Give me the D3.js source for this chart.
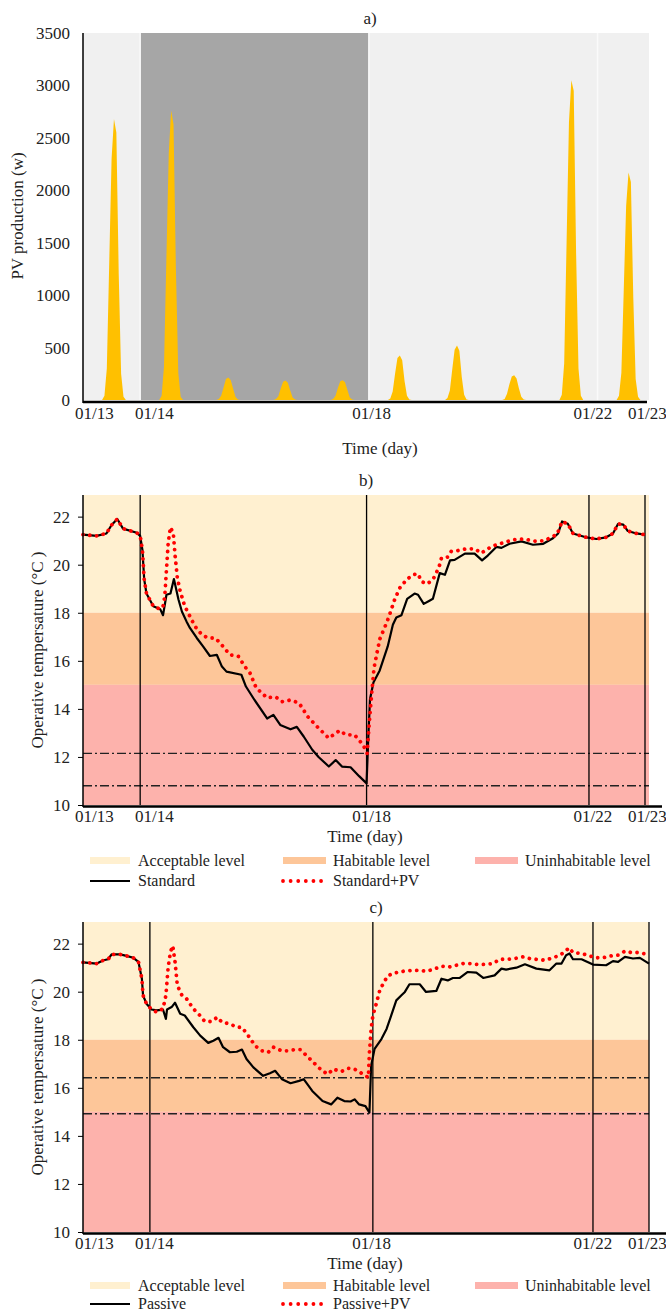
<!DOCTYPE html>
<html>
<head>
<meta charset="utf-8">
<script src="https://d3js.org/d3.v7.min.js"></script>
<style>
  body { margin: 0; background: #fff; }
  text { font-family: "Liberation Serif", "Times New Roman", serif; font-size: 17px; fill: #222; }
  .legend text { font-size: 16px; }
</style>
</head>
<body>
<svg id="chart" width="666" height="1313"></svg>
<script>
// ---- data ----
const tickLabels = ['01/13', '01/14', '01/18', '01/22', '01/23'];
const tickDays = [13.2, 14.25, 18.05, 21.92, 22.87];

// PV production (W), hourly values for daylight hours of each day
const pvHours = [8, 9, 10, 11, 12, 13, 14, 15, 16, 17, 18];
const pvDays = [13, 14, 15, 16, 17, 18, 19, 20, 21, 22];
const pvValues = [
  [0, 40, 300, 1300, 2300, 2680, 2550, 1200, 250, 30, 0],
  [0, 40, 320, 1350, 2350, 2760, 2630, 1250, 260, 30, 0],
  [0, 10, 40, 120, 200, 215, 190, 110, 30, 5, 0],
  [0, 10, 35, 110, 175, 185, 165, 90, 25, 5, 0],
  [0, 10, 40, 115, 180, 188, 170, 95, 25, 5, 0],
  [0, 15, 80, 250, 400, 425, 380, 180, 40, 5, 0],
  [0, 20, 90, 290, 480, 520, 470, 220, 50, 5, 0],
  [0, 10, 60, 150, 225, 235, 205, 110, 30, 5, 0],
  [0, 50, 350, 1500, 2650, 3050, 2950, 1400, 300, 40, 0],
  [0, 40, 260, 1050, 1850, 2170, 2080, 980, 200, 30, 0]
];
const pvTicks = [0, 500, 1000, 1500, 2000, 2500, 3000, 3500];
const shadedDays = [14, 18];
const pvSeparators = [14, 18, 22];

// panel b: Standard / Standard+PV operative temperature (°C)
const stdDays = [13.00,13.24,13.41,13.50,13.60,13.70,13.94,14.00,14.04,14.07,14.11,14.23,14.35,14.40,14.46,14.53,14.59,14.67,14.73,14.81,14.87,14.99,15.10,15.22,15.34,15.43,15.51,15.77,15.85,16.00,16.22,16.33,16.45,16.63,16.74,16.86,17.01,17.12,17.30,17.42,17.53,17.68,17.83,17.96,17.99,18.02,18.08,18.19,18.33,18.42,18.48,18.57,18.67,18.80,18.86,18.96,19.06,19.12,19.24,19.33,19.42,19.50,19.68,19.85,19.98,20.08,20.23,20.32,20.46,20.67,20.87,21.05,21.22,21.31,21.38,21.48,21.57,21.78,21.98,22.15,22.27,22.36,22.45,22.53,22.68,22.83];
const stdTemp = [21.25,21.2,21.3,21.65,21.9,21.5,21.33,21.2,20.6,19.4,18.8,18.27,18.15,17.9,18.75,18.8,19.4,18.55,18.05,17.64,17.37,16.95,16.6,16.2,16.25,15.76,15.55,15.42,14.93,14.37,13.6,13.75,13.33,13.15,13.25,12.85,12.3,12.0,11.6,11.87,11.6,11.57,11.2,10.9,12.8,14.4,15.1,15.6,16.6,17.5,17.8,17.9,18.58,18.8,18.75,18.37,18.5,18.58,19.65,19.58,20.18,20.2,20.46,20.46,20.18,20.38,20.74,20.7,20.87,20.97,20.83,20.87,21.1,21.3,21.8,21.7,21.3,21.15,21.07,21.14,21.3,21.7,21.67,21.4,21.3,21.25];
const stdPvDays = [13.00,13.24,13.41,13.50,13.60,13.70,13.94,14.00,14.04,14.07,14.11,14.23,14.35,14.40,14.43,14.49,14.53,14.58,14.61,14.65,14.70,14.78,14.87,14.96,15.08,15.19,15.31,15.40,15.57,15.72,15.83,15.92,16.03,16.22,16.37,16.48,16.63,16.78,16.93,17.12,17.30,17.38,17.49,17.60,17.75,17.90,17.97,18.01,18.05,18.09,18.19,18.31,18.36,18.45,18.54,18.66,18.77,18.86,18.92,19.02,19.12,19.18,19.24,19.27,19.38,19.44,19.59,19.70,19.85,19.97,20.05,20.17,20.29,20.43,20.55,20.70,20.81,20.93,21.08,21.19,21.29,21.38,21.48,21.57,21.78,21.98,22.15,22.27,22.36,22.45,22.53,22.68,22.83];
const stdPvTemp = [21.25,21.2,21.3,21.65,21.9,21.5,21.33,21.2,20.6,19.4,18.8,18.27,18.15,18.27,18.68,20.9,21.56,21.3,20.4,19.45,18.9,18.27,17.85,17.43,17.08,16.95,16.95,16.74,16.25,16.18,15.76,15.5,14.87,14.46,14.5,14.3,14.37,14.24,13.68,13.2,12.78,12.92,13.1,12.92,12.92,12.5,12.15,13.5,14.65,15.7,16.9,17.58,17.9,18.54,19.03,19.38,19.58,19.62,19.3,19.2,19.38,19.65,20.0,20.28,20.32,20.55,20.6,20.66,20.66,20.48,20.62,20.78,20.87,20.97,21.04,21.07,21.02,20.97,21.0,21.15,21.25,21.8,21.7,21.3,21.15,21.07,21.14,21.3,21.7,21.67,21.4,21.3,21.25];
const stdMarkers = [14, 17.96, 21.85, 22.83];
const stdMinLines = [12.15, 10.8];

// panel c: Passive / Passive+PV operative temperature (°C)
const pasDays = [13.00,13.24,13.36,13.44,13.50,13.65,13.76,13.88,13.97,14.03,14.05,14.11,14.20,14.29,14.40,14.45,14.47,14.55,14.61,14.70,14.78,14.93,15.05,15.19,15.28,15.37,15.45,15.57,15.69,15.78,15.86,15.98,16.15,16.27,16.36,16.48,16.63,16.78,16.86,17.01,17.19,17.34,17.45,17.57,17.68,17.75,17.83,17.94,18.01,18.04,18.10,18.22,18.31,18.39,18.48,18.57,18.63,18.71,18.89,19.00,19.18,19.27,19.38,19.47,19.59,19.73,19.88,20.00,20.20,20.32,20.40,20.58,20.73,20.93,21.16,21.28,21.37,21.45,21.51,21.57,21.72,21.92,22.15,22.27,22.36,22.48,22.62,22.74,22.90];
const pasTemp = [21.22,21.17,21.31,21.35,21.55,21.55,21.49,21.41,21.24,20.54,19.85,19.5,19.26,19.22,19.25,18.87,19.26,19.36,19.54,19.08,19.01,18.52,18.17,17.87,17.96,18.08,17.69,17.48,17.5,17.59,17.2,16.85,16.5,16.61,16.71,16.36,16.19,16.29,16.36,15.87,15.45,15.31,15.59,15.45,15.43,15.52,15.31,15.24,14.97,16.92,17.62,18.03,18.45,19.0,19.64,19.85,19.99,20.31,20.31,19.99,20.03,20.54,20.47,20.57,20.57,20.82,20.79,20.57,20.68,20.96,20.92,21.0,21.14,20.96,20.89,21.17,21.17,21.52,21.59,21.35,21.35,21.13,21.1,21.27,21.24,21.45,21.38,21.41,21.17];
const pasPvDays = [13.00,13.24,13.36,13.44,13.50,13.65,13.76,13.88,13.97,14.03,14.05,14.11,14.20,14.29,14.40,14.45,14.49,14.53,14.57,14.61,14.65,14.73,14.81,14.93,15.05,15.13,15.25,15.35,15.43,15.57,15.69,15.78,15.89,16.01,16.13,16.24,16.33,16.48,16.59,16.71,16.80,16.88,17.00,17.12,17.20,17.29,17.37,17.52,17.64,17.75,17.87,17.99,18.01,18.04,18.07,18.13,18.19,18.25,18.33,18.45,18.60,18.74,18.89,19.00,19.12,19.27,19.41,19.53,19.65,19.79,19.91,20.05,20.17,20.29,20.43,20.55,20.70,20.81,20.96,21.08,21.22,21.34,21.43,21.50,21.57,21.72,21.86,21.98,22.11,22.24,22.36,22.48,22.59,22.71,22.88];
const pasPvTemp = [21.22,21.17,21.31,21.35,21.55,21.55,21.49,21.41,21.24,20.54,19.85,19.5,19.26,19.15,19.29,19.85,21.03,21.66,21.91,21.24,20.26,19.85,19.71,19.29,19.0,18.76,18.76,18.94,18.73,18.66,18.52,18.52,18.17,17.75,17.54,17.48,17.69,17.54,17.54,17.59,17.59,17.41,17.13,16.85,16.68,16.57,16.78,16.68,16.81,16.78,16.61,16.43,17.48,18.45,19.0,19.5,20.05,20.33,20.66,20.78,20.85,20.88,20.89,20.85,20.92,21.06,21.03,21.1,21.17,21.17,21.13,21.14,21.17,21.35,21.35,21.38,21.45,21.38,21.34,21.31,21.41,21.52,21.66,21.83,21.63,21.59,21.49,21.41,21.42,21.49,21.52,21.69,21.63,21.63,21.55];
const pasMarkers = [14.17, 18.07, 21.92, 22.9];
const pasMinLines = [16.42, 14.92];

const tempTicks = [10, 12, 14, 16, 18, 20, 22];
const bandNames = ['Acceptable level', 'Habitable level', 'Uninhabitable level'];
const bandColors = ['#fff0d0', '#fdc699', '#fdb2ac'];
const bandLow = [18, 15, 10];
const bandHigh = [22.9, 18, 15];

// ---- drawing ----
const svg = d3.select('#chart');
const x = d3.scaleLinear().domain([13, 22.9]).range([83, 649]);

function xLabels(g, y) {
  g.selectAll('.xl')
    .data(tickLabels)
    .join('text')
    .attr('x', (d, i) => x(tickDays[i]))
    .attr('y', y)
    .attr('text-anchor', 'middle')
    .text(d => d);
}

// panel a
(function () {
  const g = svg.append('g');
  const y = d3.scaleLinear().domain([0, 3500]).range([400, 33]);

  g.append('rect').attr('x', x(13)).attr('y', y(3500))
    .attr('width', x(22.9) - x(13)).attr('height', y(0) - y(3500)).attr('fill', '#f0f0f0');
  g.append('rect').attr('x', x(shadedDays[0])).attr('y', y(3500))
    .attr('width', x(shadedDays[1]) - x(shadedDays[0])).attr('height', y(0) - y(3500)).attr('fill', '#a6a6a6');
  g.selectAll('.sep').data(pvSeparators).join('line')
    .attr('x1', d => x(d)).attr('x2', d => x(d))
    .attr('y1', y(3500)).attr('y2', y(0))
    .attr('stroke', '#fafafa').attr('stroke-width', 1.5);

  const pts = [[13, 0]];
  pvDays.forEach((day, i) => {
    pvHours.forEach((h, j) => pts.push([day + h / 24, pvValues[i][j]]));
  });
  pts.push([22.9, 0]);

  g.append('path').datum(pts)
    .attr('fill', '#ffc000')
    .attr('d', d3.area().x(d => x(d[0])).y0(y(0)).y1(d => y(d[1])));

  const ax = g.append('g').attr('transform', `translate(${x(13)},0)`)
    .call(d3.axisLeft(y).tickValues(pvTicks).tickFormat(d3.format('d')).tickSize(0).tickPadding(13));
  ax.select('.domain').remove();
  ax.attr('font-family', null).attr('font-size', null);
  ax.selectAll('text').attr('fill', '#222');

  g.append('line').attr('x1', x(13)).attr('x2', x(13)).attr('y1', y(3500)).attr('y2', 403)
    .attr('stroke', '#000').attr('stroke-width', 1.5);
  g.append('line').attr('x1', x(13)).attr('x2', 647).attr('y1', 402).attr('y2', 402)
    .attr('stroke', '#000').attr('stroke-width', 2.5);

  xLabels(g, 419);
  g.append('text').attr('x', 380).attr('y', 454).attr('text-anchor', 'middle').text('Time (day)');
  g.append('text').attr('x', 370).attr('y', 24).attr('text-anchor', 'middle').text('a)');
  g.append('text').attr('transform', 'translate(23,216) rotate(-90)')
    .attr('text-anchor', 'middle').text('PV production (w)');
})();

function tempPanel(opt) {
  const g = svg.append('g');
  const y = d3.scaleLinear().domain([10, 22.9]).range([opt.bottom, opt.bottom - 310]);

  g.selectAll('.band').data(bandNames).join('rect')
    .attr('x', x(13)).attr('width', x(22.9) - x(13))
    .attr('y', (d, i) => y(bandHigh[i]))
    .attr('height', (d, i) => y(bandLow[i]) - y(bandHigh[i]))
    .attr('fill', (d, i) => bandColors[i]);

  g.selectAll('.min').data(opt.minLines).join('line')
    .attr('x1', x(13)).attr('x2', x(22.9))
    .attr('y1', d => y(d)).attr('y2', d => y(d))
    .attr('stroke', '#222').attr('stroke-width', 1.4)
    .attr('stroke-dasharray', '9 3 2 3');

  g.selectAll('.mk').data(opt.markers).join('line')
    .attr('x1', d => x(d)).attr('x2', d => x(d))
    .attr('y1', y(22.9)).attr('y2', y(10))
    .attr('stroke', '#000').attr('stroke-width', 1.3);

  const line = d3.line().x(d => x(d[0])).y(d => y(d[1]));
  g.append('path').datum(d3.zip(opt.baseDays, opt.baseTemp))
    .attr('fill', 'none').attr('stroke', '#000').attr('stroke-width', 2.2)
    .attr('stroke-linejoin', 'round').attr('d', line);
  g.append('path').datum(d3.zip(opt.pvDays, opt.pvTemp))
    .attr('fill', 'none').attr('stroke', '#ff0000').attr('stroke-width', 3.8)
    .attr('stroke-linecap', 'round').attr('stroke-dasharray', '0.01 6.8').attr('d', line);

  const ax = g.append('g').attr('transform', `translate(${x(13)},0)`)
    .call(d3.axisLeft(y).tickValues(tempTicks).tickSize(5).tickPadding(8));
  ax.select('.domain').remove();
  ax.attr('font-family', null).attr('font-size', null);
  ax.selectAll('line').attr('stroke', '#000');
  ax.selectAll('text').attr('fill', '#222');

  g.append('line').attr('x1', x(13)).attr('x2', x(13)).attr('y1', y(22.9)).attr('y2', opt.bottom + 2)
    .attr('stroke', '#000').attr('stroke-width', 1.5);
  g.append('line').attr('x1', x(13)).attr('x2', opt.axisEnd)
    .attr('y1', opt.bottom + 1.5).attr('y2', opt.bottom + 1.5)
    .attr('stroke', '#000').attr('stroke-width', 2.5);

  xLabels(g, opt.bottom + 17);
  g.append('text').attr('x', 365).attr('y', opt.bottom + 37).attr('text-anchor', 'middle').text('Time (day)');
  g.append('text').attr('x', opt.titleX).attr('y', opt.bottom - 319).attr('text-anchor', 'middle').text(opt.title);
  g.append('text').attr('transform', `translate(43,${opt.bottom - 155}) rotate(-90)`)
    .attr('text-anchor', 'middle').text('Operative tempersature (°C )');

  // legend
  const ly = opt.legendY;
  const gap = opt.legendGap;
  const sw = [[90, 130, 138], [283, 326, 333], [475, 518, 525]];
  const lg = g.append('g').attr('class', 'legend');
  bandNames.forEach((name, i) => {
    lg.append('rect').attr('x', sw[i][0]).attr('y', ly - 4).attr('width', sw[i][1] - sw[i][0]).attr('height', 7)
      .attr('fill', bandColors[i]);
    lg.append('text').attr('x', sw[i][2]).attr('y', ly + 5).text(name);
  });
  lg.append('line').attr('x1', sw[0][0]).attr('x2', sw[0][1]).attr('y1', ly + gap).attr('y2', ly + gap)
    .attr('stroke', '#000').attr('stroke-width', 2.2);
  lg.append('text').attr('x', sw[0][2]).attr('y', ly + gap + 5).text(opt.names[0]);
  lg.append('line').attr('x1', sw[1][0]).attr('x2', sw[1][1]).attr('y1', ly + gap).attr('y2', ly + gap)
    .attr('stroke', '#ff0000').attr('stroke-width', 3.8)
    .attr('stroke-linecap', 'round').attr('stroke-dasharray', '0.01 7.6');
  lg.append('text').attr('x', sw[1][2]).attr('y', ly + gap + 5).text(opt.names[1]);
}

tempPanel({
  bottom: 805, title: 'b)', titleX: 366, axisEnd: 662, legendY: 861, legendGap: 20,
  baseDays: stdDays, baseTemp: stdTemp, pvDays: stdPvDays, pvTemp: stdPvTemp,
  markers: stdMarkers, minLines: stdMinLines, names: ['Standard', 'Standard+PV']
});
tempPanel({
  bottom: 1232, title: 'c)', titleX: 376, axisEnd: 666, legendY: 1286, legendGap: 18,
  baseDays: pasDays, baseTemp: pasTemp, pvDays: pasPvDays, pvTemp: pasPvTemp,
  markers: pasMarkers, minLines: pasMinLines, names: ['Passive', 'Passive+PV']
});
</script>
</body>
</html>
